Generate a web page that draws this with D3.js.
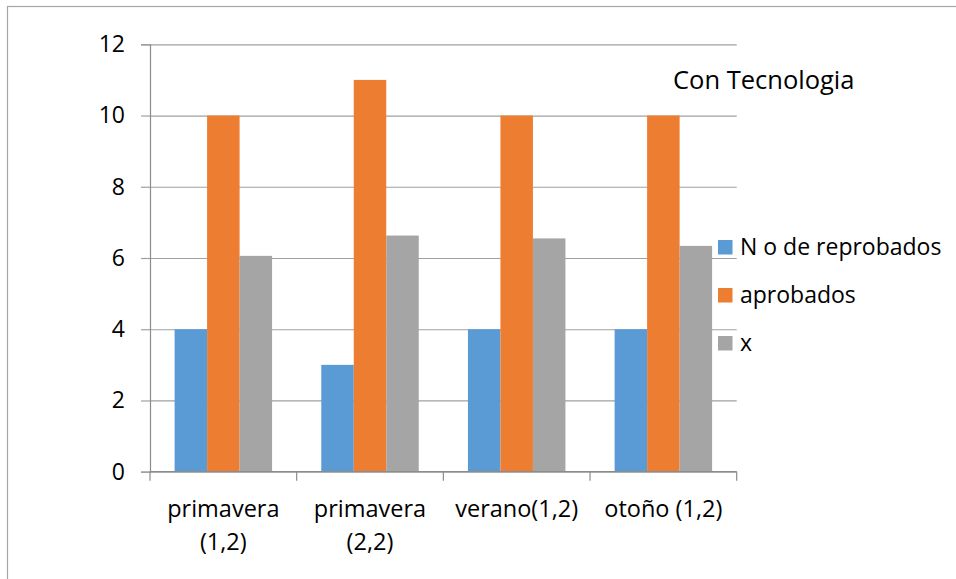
<!DOCTYPE html>
<html>
<head>
<meta charset="utf-8">
<script src="https://cdn.jsdelivr.net/npm/d3@7"></script>
<style>
  body { margin: 0; background: #fff; }
  text { font-family: "Open Sans", sans-serif; fill: #000; }
</style>
</head>
<body>
<script>
// bar chart "Con Tecnologia"
var width = 956;
var height = 579;

// data
var categories = ["primavera (1,2)", "primavera (2,2)", "verano(1,2)", "otoño (1,2)"];
var categoryLines = [["primavera", "(1,2)"], ["primavera", "(2,2)"], ["verano(1,2)"], ["otoño (1,2)"]];
var seriesNames = ["N o de reprobados", "aprobados", "x"];
var reprobados = [4, 3, 4, 4];
var aprobados = [10, 11, 10, 10];
var xValues = [6.06, 6.63, 6.55, 6.34];
var yTicks = [0, 2, 4, 6, 8, 10, 12];
var colors = ["#5b9bd5", "#ed7d31", "#a5a5a5"];

var seriesValues = [reprobados, aprobados, xValues];

var margin = { top: 44.3, left: 150, right: 219.3, bottom: 107.3 };

var svg = d3.select("body")
  .append("svg")
  .attr("width", width)
  .attr("height", height);

// chart border (right/bottom cut off in the original)
svg.append("rect")
  .attr("x", 7.5).attr("y", 6.5)
  .attr("width", 1000).attr("height", 1000)
  .attr("fill", "none")
  .attr("stroke", "#a6a6a6")
  .attr("stroke-width", 1.2);

var xScale = d3.scaleBand()
  .domain(categories)
  .range([margin.left, width - margin.right])
  .padding(0);

var inner = d3.scaleBand()
  .domain(seriesNames)
  .range([0, xScale.bandwidth()])
  .paddingInner(0)
  .paddingOuter(0.757);

var yScale = d3.scaleLinear()
  .domain([0, 12])
  .range([height - margin.bottom, margin.top]);

var plotW = width - margin.right - margin.left;

// gridlines
var grid = svg.append("g")
  .attr("transform", "translate(" + margin.left + ",0)")
  .call(d3.axisLeft(yScale).tickValues(yTicks).tickSize(-plotW).tickFormat(""));
grid.select(".domain").remove();
grid.selectAll("line").attr("stroke", "#a0a0a0").attr("stroke-width", 1.2);

// y axis
var yAxis = svg.append("g")
  .attr("transform", "translate(" + margin.left + ",0)")
  .call(d3.axisLeft(yScale).tickValues(yTicks).tickSize(9).tickPadding(16).tickFormat(d3.format("d")));
yAxis.attr("font-family", null).attr("font-size", null);
yAxis.select(".domain").attr("stroke", "#8c8c8c").attr("stroke-width", 1.2);
yAxis.selectAll("line").attr("stroke", "#a0a0a0").attr("stroke-width", 1.2);
yAxis.selectAll("text")
  .attr("fill", "#000")
  .style("font-size", "23px");

// bars
var groups = svg.append("g").selectAll("g")
  .data(seriesNames)
  .enter()
  .append("g")
    .attr("fill", function(d, i) { return colors[i]; });

groups.selectAll("rect")
  .data(function(d, i) {
    return categories.map(function(c, j) { return { cat: c, s: d, v: seriesValues[i][j] }; });
  })
  .enter()
  .append("rect")
    .attr("x", function(d) { return xScale(d.cat) + inner(d.s); })
    .attr("y", function(d) { return yScale(d.v); })
    .attr("width", inner.bandwidth())
    .attr("height", function(d) { return yScale(0) - yScale(d.v); });

// x axis
var xAxis = svg.append("g")
  .attr("transform", "translate(0," + yScale(0) + ")");
xAxis.append("line")
  .attr("x1", margin.left).attr("x2", width - margin.right)
  .attr("stroke", "#8c8c8c").attr("stroke-width", 1.2);
var tickPos = categories.map(function(c) { return xScale(c); }).concat([width - margin.right]);
xAxis.selectAll(".tk")
  .data(tickPos)
  .enter()
  .append("line")
    .attr("x1", function(d) { return d; })
    .attr("x2", function(d) { return d; })
    .attr("y1", 0).attr("y2", 9)
    .attr("stroke", "#8c8c8c").attr("stroke-width", 1.2);

var labels = xAxis.selectAll(".lbl")
  .data(categories)
  .enter()
  .append("text")
    .attr("text-anchor", "middle")
    .attr("x", function(d) { return xScale(d) + xScale.bandwidth() / 2; })
    .style("font-size", "23.5px");
labels.selectAll("tspan")
  .data(function(d, i) { return categoryLines[i]; })
  .enter()
  .append("tspan")
    .attr("x", function() { return d3.select(this.parentNode).attr("x"); })
    .attr("y", function(d, i) { return 45 + i * 33; })
    .text(function(d) { return d; });

// title
svg.append("text")
  .attr("x", 673)
  .attr("y", 89)
  .style("font-size", "25.5px")
  .text("Con Tecnologia");

// legend
var legend = svg.append("g").selectAll("g")
  .data(seriesNames)
  .enter()
  .append("g")
    .attr("transform", function(d, i) { return "translate(718," + (240 + i * 48) + ")"; });
legend.append("rect")
  .attr("width", 14.5).attr("height", 14.5)
  .attr("fill", function(d, i) { return colors[i]; });
legend.append("text")
  .attr("x", 22)
  .attr("y", 15)
  .style("font-size", "23px")
  .text(function(d) { return d; });
</script>
</body>
</html>
